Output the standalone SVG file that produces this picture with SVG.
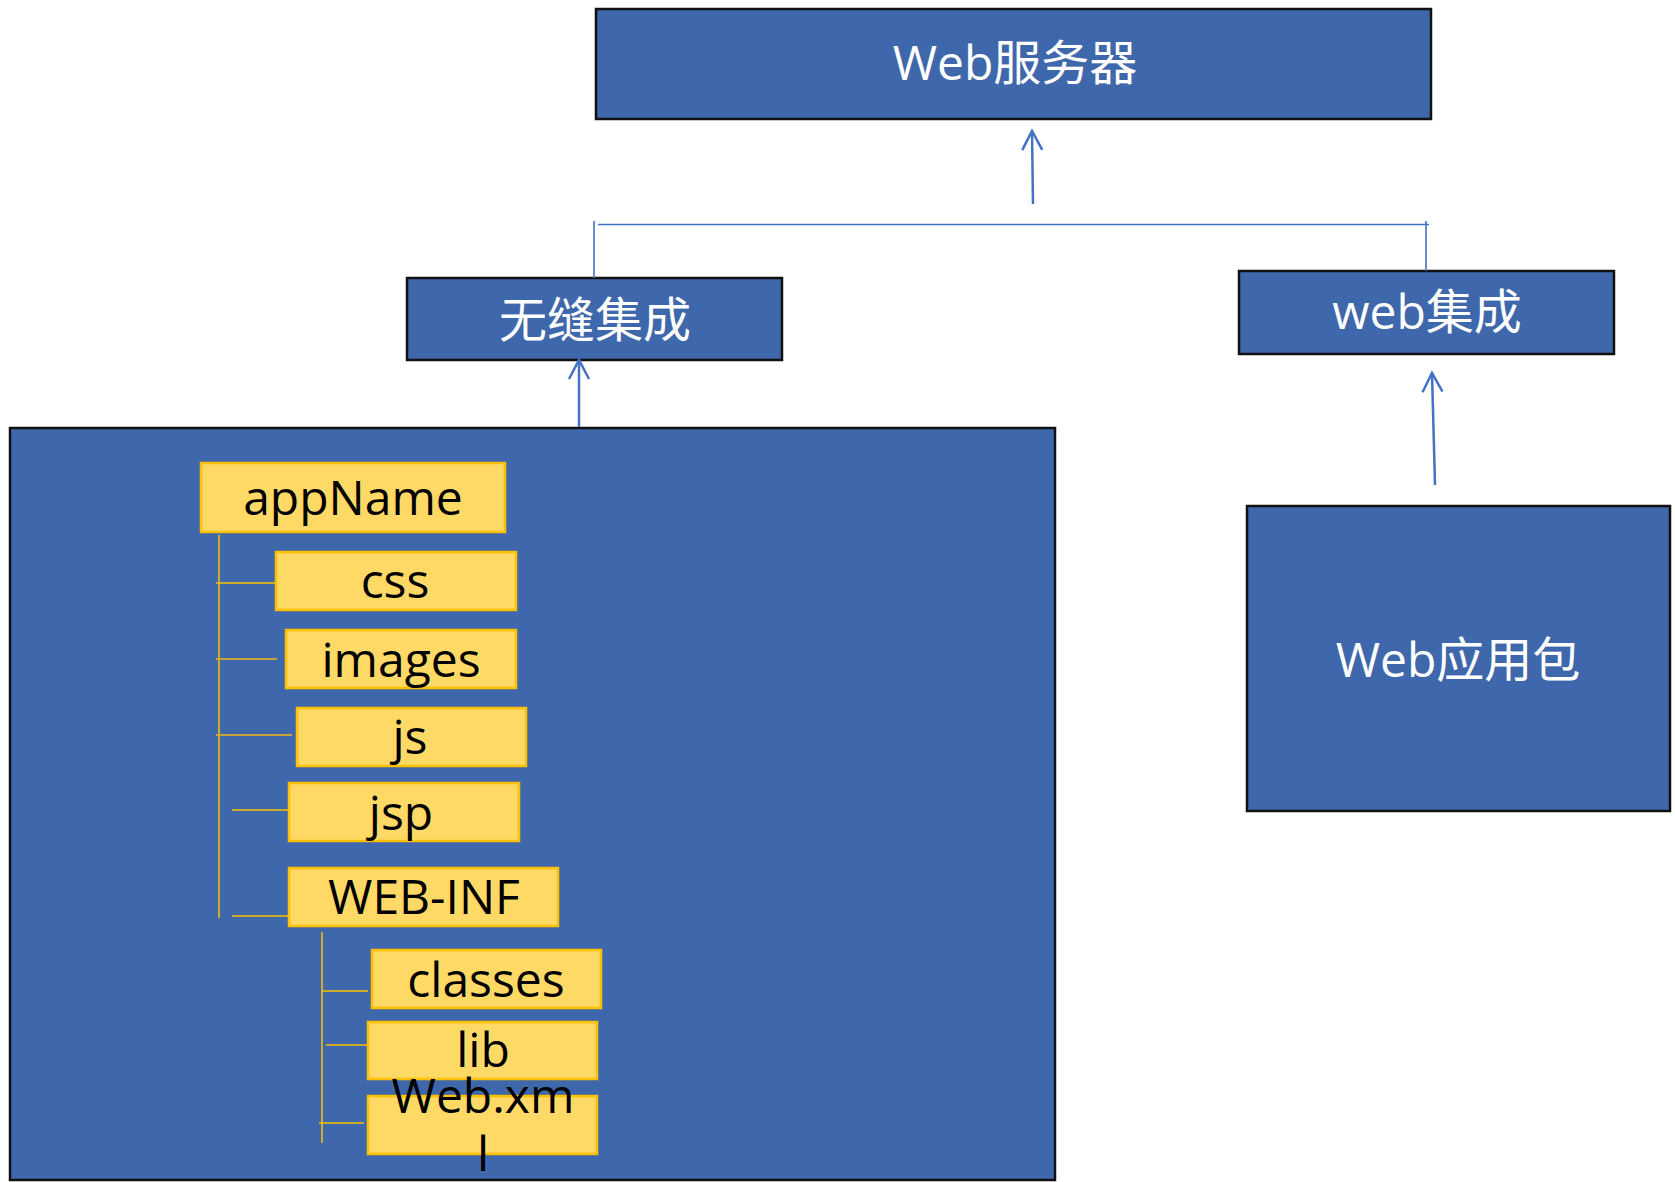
<svg xmlns="http://www.w3.org/2000/svg" width="1675" height="1182" viewBox="0 0 1675 1182">
<style>
.blue{fill:#3F67AB;stroke:#111;stroke-width:2.5}
.yel{fill:#FFD966;stroke:#FFC000;stroke-width:2.5}
.wt{fill:#fff;font-family:"Open Sans","Noto Sans CJK SC",sans-serif;font-size:48px;text-anchor:middle}
.bt{fill:#000;font-family:"Open Sans","Noto Sans CJK SC",sans-serif;font-size:48px;text-anchor:middle}
.tree{stroke:#FFC000;stroke-width:1.5;fill:none}
.tree2{stroke:#C9A43A;stroke-width:2;fill:none}
.conn{stroke:#4472C4;stroke-width:1.6;fill:none}
.arr{stroke:#4472C4;stroke-width:2.5;fill:none;marker-end:url(#open)}
</style>
<defs>
<marker id="open" markerUnits="userSpaceOnUse" viewBox="-22 -13 26 26" markerWidth="26" markerHeight="26" refX="0" refY="0" orient="auto">
<path d="M-19,-10 L0,0 L-19,10" fill="none" stroke="#4472C4" stroke-width="2.5"/>
</marker>
</defs>
<rect width="1675" height="1182" fill="#fff"/>

<g id="web-server">
<rect class="blue" x="596" y="9" width="835" height="110"/>
<text class="wt" x="1015" y="80">Web服务器</text>
</g>

<g id="seamless">
<rect class="blue" x="407" y="278" width="375" height="82"/>
<text class="wt" x="595" y="337">无缝集成</text>
</g>

<g id="web-integration">
<rect class="blue" x="1239" y="271" width="375" height="83"/>
<text class="wt" x="1427" y="329">web集成</text>
</g>

<g id="web-app-package">
<rect class="blue" x="1247" y="506" width="423" height="305"/>
<text class="wt" x="1458" y="677">Web应用包</text>
</g>

<g id="app-container">
<rect class="blue" x="10" y="428" width="1045" height="752"/>
</g>

<g id="tree-lines">
<line class="tree" x1="219" y1="535" x2="219" y2="918"/>
<line class="tree" x1="216" y1="583" x2="276" y2="583"/>
<line class="tree2" x1="216" y1="659" x2="277" y2="659"/>
<line class="tree2" x1="216" y1="735" x2="292" y2="735"/>
<line class="tree" x1="232" y1="810" x2="289" y2="810"/>
<line class="tree" x1="232" y1="916" x2="307" y2="916"/>
<line class="tree" x1="322" y1="932" x2="322" y2="1143"/>
<line class="tree" x1="322" y1="991" x2="368" y2="991"/>
<line class="tree" x1="326" y1="1045" x2="371" y2="1045"/>
<line class="tree" x1="319" y1="1123" x2="364" y2="1123"/>
</g>

<g id="appName">
<rect class="yel" x="201" y="463" width="304" height="69"/>
<text class="bt" x="353" y="515">appName</text>
</g>
<g id="css">
<rect class="yel" x="276" y="552" width="240" height="58"/>
<text class="bt" x="395" y="598">css</text>
</g>
<g id="images">
<rect class="yel" x="286" y="630" width="230" height="58"/>
<text class="bt" x="401" y="677">images</text>
</g>
<g id="js">
<rect class="yel" x="297" y="708" width="229" height="58"/>
<text class="bt" x="410" y="754">js</text>
</g>
<g id="jsp">
<rect class="yel" x="289" y="783" width="230" height="58"/>
<text class="bt" x="401" y="830">jsp</text>
</g>
<g id="WEB-INF">
<rect class="yel" x="289" y="868" width="269" height="58"/>
<text class="bt" x="424" y="914">WEB-INF</text>
</g>
<g id="classes">
<rect class="yel" x="372" y="950" width="229" height="58"/>
<text class="bt" x="486" y="997">classes</text>
</g>
<g id="lib">
<rect class="yel" x="368" y="1022" width="229" height="57"/>
<text class="bt" x="483" y="1067">lib</text>
</g>
<g id="web-xml">
<rect class="yel" x="368" y="1096" width="229" height="58"/>
<text class="bt" x="483" y="1113">Web.xm<tspan x="483" y="1171">l</tspan></text>
</g>

<g id="connectors">
<line class="arr" x1="1033" y1="204" x2="1032" y2="131"/>
<line class="conn" x1="598" y1="224.5" x2="1429" y2="224.5"/>
<line class="conn" x1="594" y1="221" x2="594" y2="278"/>
<line class="conn" x1="1426" y1="221" x2="1426" y2="271"/>
<line class="arr" x1="579" y1="427" x2="579" y2="360"/>
<line class="arr" x1="1435" y1="485" x2="1432" y2="373"/>
</g>
</svg>
